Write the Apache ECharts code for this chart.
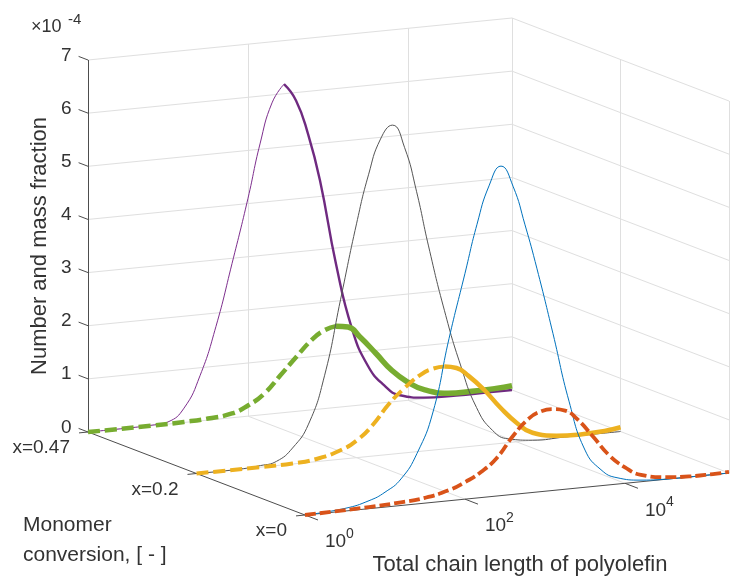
<!DOCTYPE html>
<html><head><meta charset="utf-8">
<script src="https://cdn.jsdelivr.net/npm/echarts@6/dist/echarts.min.js"></script>
<style>html,body{margin:0;padding:0;background:#fff}#c{width:740px;height:585px}</style>
</head><body><div id="c"></div>
<script>
// ---------------- data ----------------
const chainTickLog = [0, 2, 4];
const chainTickExp = ['0', '2', '4'];
const conversionLabels = ['x=0.47', 'x=0.2', 'x=0'];
const conversionRow = [0, 0.5, 1];
const fractionTicks = [0, 1, 2, 3, 4, 5, 6, 7];

// number fractions (x 1e-4) vs log10(chain length)
const numLog    = [0, 0.5, 0.8, 1.0, 1.2, 1.4, 1.6, 1.8, 2.0, 2.15, 2.3, 2.45, 2.6, 2.75, 2.9, 3.1, 3.3, 3.5, 3.7, 3.9, 4.2, 4.6, 5.0, 5.3];
const numPurple = [0, 0, 0.01, 0.04, 0.27, 0.85, 1.75, 2.9, 4.1, 5.1, 5.85, 6.18, 5.85, 5.2, 4.3, 2.7, 1.45, 0.72, 0.33, 0.11, 0.02, 0, 0, 0];
const numGray   = [0, 0, 0.03, 0.08, 0.3, 0.72, 1.6, 3.0, 4.4, 5.3, 5.95, 6.19, 5.75, 4.9, 3.85, 2.6, 1.55, 0.72, 0.26, 0.07, 0, 0, 0, 0];
const numBlue   = [0, 0.05, 0.15, 0.28, 0.5, 0.95, 1.7, 3.05, 4.25, 5.15, 5.85, 6.2, 5.8, 5.05, 4.2, 2.95, 1.65, 0.7, 0.3, 0.12, 0.03, 0, 0, 0];

// mass fractions (x 1e-4) vs log10(chain length)
const massLog    = [0, 0.8, 1.2, 1.5, 1.8, 2.0, 2.2, 2.4, 2.6, 2.8, 2.95, 3.1, 3.25, 3.4, 3.6, 3.8, 4.0, 4.2, 4.5, 4.8, 5.1, 5.3];
const massGreen  = [0, 0, 0.01, 0.03, 0.08, 0.2, 0.39, 0.7, 1.02, 1.32, 1.47, 1.53, 1.49, 1.28, 0.94, 0.59, 0.34, 0.17, 0.06, 0.05, 0.06, 0.08];
const massYellow = [0, 0, 0.01, 0.05, 0.17, 0.32, 0.58, 0.94, 1.22, 1.44, 1.53, 1.55, 1.5, 1.33, 1.03, 0.67, 0.36, 0.14, 0.04, 0.02, 0.04, 0.08];
const massOrange = [0, 0.03, 0.06, 0.1, 0.2, 0.32, 0.48, 0.72, 1.1, 1.4, 1.51, 1.53, 1.48, 1.3, 0.94, 0.56, 0.3, 0.13, 0.04, 0.01, 0.01, 0.02];

// ---------------- 3D box projection ----------------
const LOG_MAX = 5.3, Z_MAX = 7;
const O = [88, 432], U = [424, -42], V = [217, 83], W = [0, -372];
function P(lg, v, z) {
  const u = lg / LOG_MAX, w = z / Z_MAX;
  return [O[0] + U[0] * u + V[0] * v + W[0] * w, O[1] + U[1] * u + V[1] * v + W[1] * w];
}
function add(p, d) { return [p[0] + d[0], p[1] + d[1]]; }

const FONT = '"Liberation Sans", Arial, Helvetica, sans-serif';
const TXT = '#333333';
const GRIDC = '#dfdfdf';
const AXC = '#4d4d4d';

// grid segments
const gridSegs = [];
fractionTicks.forEach(z => {
  gridSegs.push([P(0, 0, z), P(LOG_MAX, 0, z)]);
  gridSegs.push([P(LOG_MAX, 0, z), P(LOG_MAX, 1, z)]);
});
chainTickLog.filter(l => l > 0).forEach(l => {
  gridSegs.push([P(l, 0, 0), P(l, 0, Z_MAX)]);
  gridSegs.push([P(l, 0, 0), P(l, 1, 0)]);
});
conversionRow.forEach(v => gridSegs.push([P(LOG_MAX, v, 0), P(LOG_MAX, v, Z_MAX)]));
gridSegs.push([P(0, 0.5, 0), P(LOG_MAX, 0.5, 0)]);

// axis segments
const axSegs = [];
axSegs.push([P(0, 0, 0), P(0, 0, Z_MAX)]);
axSegs.push([P(0, 0, 0), P(0, 1, 0)]);
axSegs.push([P(0, 1, 0), P(LOG_MAX, 1, 0)]);
const zTickDir = [-9.4, -3.6], cTickDir = [-9, 0.9], lTickDir = [13, 5];
fractionTicks.forEach(z => { const p = P(0, 0, z); axSegs.push([p, add(p, zTickDir)]); });
conversionRow.forEach(v => { const p = P(0, v, 0); axSegs.push([p, add(p, cTickDir)]); });
chainTickLog.forEach(l => { const p = P(l, 1, 0); axSegs.push([p, add(p, lTickDir)]); });

function curve(logs, vals, row, from, to) {
  const out = [];
  for (let i = from; i < to; i++) out.push(P(logs[i], row, vals[i]));
  return out;
}
function peakIdx(vals) { let k = 0; vals.forEach((v, i) => { if (v > vals[k]) k = i; }); return k; }

function lineSeries(name, data, color, width, dash, z) {
  return {
    name, type: 'line', data, smooth: 0.5, showSymbol: false, symbol: 'none',
    silent: true, z,
    lineStyle: { color, width, type: dash || 'solid', cap: 'butt', join: 'round' }
  };
}

const pk = peakIdx(numPurple), gk = peakIdx(massGreen), yk = peakIdx(massYellow);

const series = [
  { type: 'lines', coordinateSystem: 'cartesian2d', silent: true, z: 1,
    lineStyle: { color: GRIDC, width: 1, opacity: 1, curveness: 0 },
    data: gridSegs.map(s => ({ coords: s })) },
  { type: 'lines', coordinateSystem: 'cartesian2d', silent: true, z: 2,
    lineStyle: { color: AXC, width: 1, opacity: 1, curveness: 0 },
    data: axSegs.map(s => ({ coords: s })) },
  lineSeries('purple', curve(numLog, numPurple, 0, 0, pk + 1), '#7E2F8E', 1, null, 3),
  lineSeries('purpleTail', curve(numLog, numPurple, 0, pk, numLog.length), '#6f2a80', 2.4, null, 3),
  lineSeries('green', curve(massLog, massGreen, 0, 0, gk + 1), '#77AC30', 4.5, [12, 5], 4),
  lineSeries('greenTail', curve(massLog, massGreen, 0, gk, massLog.length), '#77AC30', 5.5, null, 4),
  lineSeries('gray', curve(numLog, numGray, 0.5, 0, numLog.length), '#555555', 1, null, 5),
  lineSeries('yellow', curve(massLog, massYellow, 0.5, 0, yk + 1), '#EDB120', 4, [12, 5], 6),
  lineSeries('yellowTail', curve(massLog, massYellow, 0.5, yk, massLog.length), '#EDB120', 4.5, null, 6),
  lineSeries('blue', curve(numLog, numBlue, 1, 0, numLog.length), '#0072BD', 1, null, 7),
  lineSeries('orange', curve(massLog, massOrange, 1, 0, massLog.length), '#D95319', 3.8, [11, 4], 8)
];

const chart = echarts.init(document.getElementById('c'), null, { renderer: 'canvas' });
chart.setOption({
  animation: false,
  backgroundColor: '#ffffff',
  grid: { left: 0, right: 0, top: 0, bottom: 0 },
  xAxis: { type: 'value', min: 0, max: 740, show: false },
  yAxis: { type: 'value', min: 0, max: 585, inverse: true, show: false },
  series
});

// ---------------- text ----------------
function px(p) { return chart.convertToPixel({ gridIndex: 0 }, p); }
function txt(p, text, size, align, vAlign, extra) {
  const q = px(p);
  return Object.assign({ type: 'text', x: q[0], y: q[1], silent: true, z: 20,
    style: { text, fill: TXT, font: size + 'px ' + FONT, align, verticalAlign: vAlign } }, extra || {});
}
const g = [];
fractionTicks.forEach(z => { const e = add(P(0, 0, z), zTickDir); g.push(txt([e[0] - 7, e[1] - 1], String(z), 19, 'right', 'middle')); });
conversionRow.forEach((v, i) => { const e = add(P(0, v, 0), cTickDir); g.push(txt([e[0] - 9, e[1] + 15], conversionLabels[i], 19, 'right', 'middle')); });
chainTickLog.forEach((l, i) => {
  const p = P(l, 1, 0);
  g.push(txt([p[0] + 20, p[1] + 27], '10', 19, 'left', 'middle'));
  g.push(txt([p[0] + 41, p[1] + 19], chainTickExp[i], 14, 'left', 'middle'));
});
g.push(txt([31, 27], '\u00d710', 18, 'left', 'middle'));
g.push(txt([68, 20], '-4', 15, 'left', 'middle'));
g.push(txt([520, 565], 'Total chain length of polyolefin', 22, 'center', 'middle'));
g.push(txt([40, 246], 'Number and mass fraction', 22, 'center', 'middle', { rotation: Math.PI / 2 }));
g.push(txt([23, 525], 'Monomer', 21, 'left', 'middle'));
g.push(txt([23, 555], 'conversion, [ - ]', 21, 'left', 'middle'));
chart.setOption({ graphic: g });
</script>
</body></html>
